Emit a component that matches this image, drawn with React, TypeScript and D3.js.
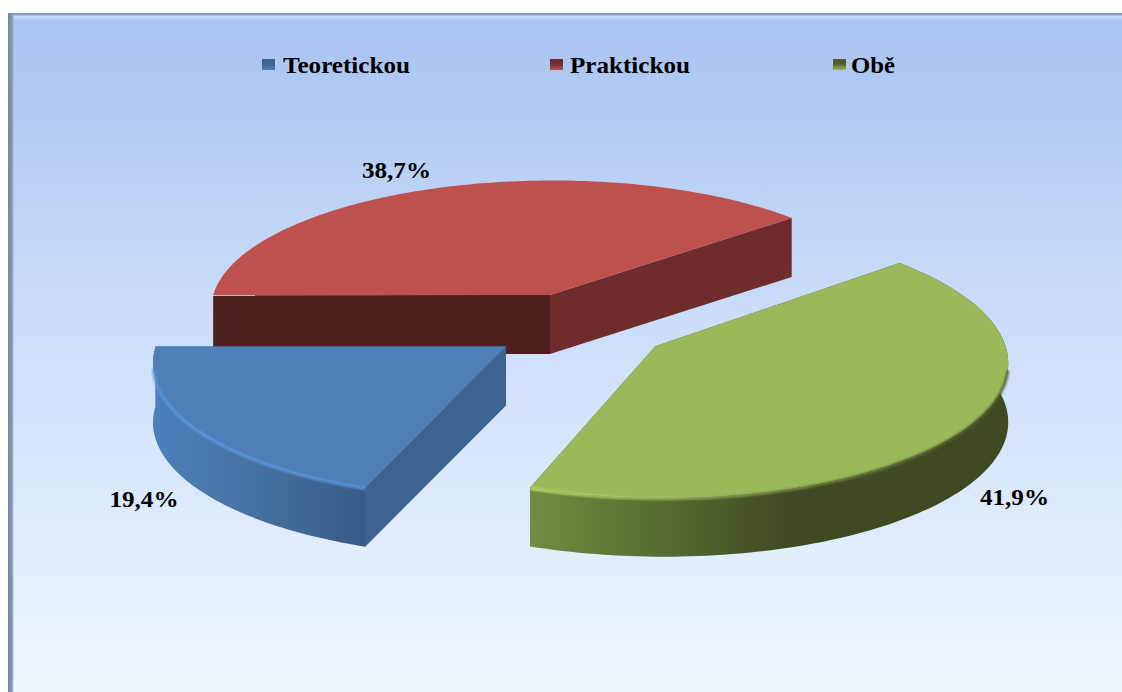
import React from "react";
import * as d3 from "d3";

const categories = ["Teoretickou", "Praktickou", "Obě"];
const shares = [19.4, 38.7, 41.9];
const topColors = ["#4f7fb9", "#be504d", "#9bb95a"];
const markColors = ["#3d6491", "#6e2c2b", "#4f5c2b"];
const startWallColors = ["#3d6491", "#4d1f1e", "#3f4a22"];
const endWallColors = ["#3d6491", "#6e2c2b", "#3f4a22"];
const legendX = [262, 550, 833];
const legendWidths = [127, 120, 44];
const labelAnchors = [[144, 507], [396.5, 178], [1014.5, 505]];

const W = 1122, H = 692;
const Cx = 580.5, Cy = 326.5, Rx = 345, Ry = 132, k = 0.1, explode = 0.26, depth = 59;
const START = (200.1 * Math.PI) / 180;

const fmt = d3.formatLocale({ decimal: ",", thousands: " ", grouping: [3], currency: ["", ""] }).format(".1f");

type P = [number, number];
const project = (X: number, Z: number, drop = 0): P => {
  const w = 1 / (1 - k * Z);
  return [Cx + Rx * X * w, Cy + Ry * Z * w + drop];
};
const line = d3.line<P>();

const arcs = d3.pie<number>().sort(null).startAngle(START).endAngle(START + 2 * Math.PI)(shares);

const slices = arcs.map((a) => {
  const mid = (a.startAngle + a.endAngle) / 2;
  const ax = explode * Math.sin(mid), az = -explode * Math.cos(mid);
  const ts = d3.range(0, 121).map((i) => a.startAngle + ((a.endAngle - a.startAngle) * i) / 120);
  const pt = (t: number, drop = 0) => project(ax + Math.sin(t), az - Math.cos(t), drop);
  const apex = project(ax, az), apexLow = project(ax, az, depth);
  const rim = ts.map((t) => pt(t));
  const rimLow = ts.map((t) => pt(t, depth));
  const s0 = rim[0], s1 = rim[rim.length - 1];
  return {
    top: line([apex, ...rim])! + "Z",
    outer: line([...rim, ...rimLow.slice().reverse()])! + "Z",
    wallStart: line([apex, s0, rimLow[0], apexLow])! + "Z",
    wallEnd: line([apex, s1, rimLow[rimLow.length - 1], apexLow])! + "Z",
    front: ts.filter((t) => -Math.cos(t) + az > 0.3).map((t) => pt(t, 1)),
    x0: d3.min(rim, (p) => p[0])!,
    x1: d3.max(rim, (p) => p[0])!,
  };
});

// painter's order: back slice first
const order = [1, 0, 2];

export default function App() {
  return (
    <svg width={W} height={H} style={{ position: "absolute", left: 0, top: 0, display: "block" }}>
      <defs>
        <linearGradient id="bg" x1="0" y1="0" x2="0" y2="1">
          <stop offset="0" stopColor="#a8c3f0" />
          <stop offset="0.5" stopColor="#cfe0fb" />
          <stop offset="1" stopColor="#eff6ff" />
        </linearGradient>
        <linearGradient id="leftEdge" x1="0" y1="0" x2="1" y2="0">
          <stop offset="0" stopColor="#75859f" />
          <stop offset="0.7" stopColor="#8a9ab6" />
          <stop offset="1" stopColor="#8d9db9" stopOpacity="0" />
        </linearGradient>
        <linearGradient id="topGlow" x1="0" y1="0" x2="0" y2="1">
          <stop offset="0" stopColor="#c8e2fc" />
          <stop offset="1" stopColor="#c8e2fc" stopOpacity="0" />
        </linearGradient>
        <linearGradient id="outer0" gradientUnits="userSpaceOnUse" x1={slices[0].x0} x2={365} y1="0" y2="0">
          <stop offset="0" stopColor="#4d80bd" />
          <stop offset="0.5" stopColor="#44719f" />
          <stop offset="1" stopColor="#385a88" />
        </linearGradient>
        <linearGradient id="outer2" gradientUnits="userSpaceOnUse" x1={slices[2].x0} x2={790} y1="0" y2="0">
          <stop offset="0" stopColor="#738c40" />
          <stop offset="0.45" stopColor="#5a6f33" />
          <stop offset="1" stopColor="#3f4a22" />
        </linearGradient>
        <linearGradient id="rim0" gradientUnits="userSpaceOnUse" x1="150" x2="365" y1="0" y2="0">
          <stop offset="0" stopColor="#5b98e0" />
          <stop offset="1" stopColor="#5b98e0" />
        </linearGradient>
        <linearGradient id="rim2" gradientUnits="userSpaceOnUse" x1={slices[2].x0} x2={1005} y1="0" y2="0">
          <stop offset="0" stopColor="#cbe873" />
          <stop offset="0.2" stopColor="#a9c765" />
          <stop offset="0.55" stopColor="#7c9145" />
          <stop offset="1" stopColor="#4f5c2b" />
        </linearGradient>
        {topColors.map((c, i) => (
          <linearGradient key={i} id={`mark${i}`} x1="0" y1="0" x2="0" y2="1">
            <stop offset="0" stopColor={markColors[i]} />
            <stop offset="0.45" stopColor={markColors[i]} />
            <stop offset="1" stopColor={c} />
          </linearGradient>
        ))}
        <filter id="soft" x="-5%" y="-5%" width="110%" height="110%">
          <feGaussianBlur stdDeviation="1" />
        </filter>
      </defs>

      <rect x={8} y={13} width={W - 8} height={H - 13} fill="url(#bg)" />
      <rect x={8} y={13} width={W - 8} height={2} fill="#8b9ab5" />
      <rect x={14} y={16} width={W - 14} height={5} fill="url(#topGlow)" />
      <rect x={8} y={13} width={6} height={H - 13} fill="url(#leftEdge)" />

      {categories.map((c, i) => (
        <g key={c}>
          <rect x={legendX[i]} y={59} width={13} height={11} fill={`url(#mark${i})`} />
          <text
            x={legendX[i] + (i === 0 ? 21 : i === 1 ? 20 : 18)}
            y={73}
            textLength={legendWidths[i]}
            lengthAdjust="spacingAndGlyphs"
            fontFamily="Liberation Serif"
            fontWeight="bold"
            fontSize={22.5}
            fill="#000"
          >
            {c}
          </text>
        </g>
      ))}

      {order.map((i) => {
        const s = slices[i];
        return (
          <g key={i}>
            <path d={s.wallEnd} fill={endWallColors[i]} />
            <path d={s.wallStart} fill={startWallColors[i]} />
            {i !== 1 && <path d={s.outer} fill={`url(#outer${i})`} />}
            {i === 0 && <path d={s.wallStart} fill={startWallColors[i]} />}
            <path d={s.top} fill={topColors[i]} />
            {i !== 1 && (
              <path d={line(s.front)!} fill="none" stroke={`url(#rim${i})`} strokeWidth={2.5} filter="url(#soft)" />
            )}
          </g>
        );
      })}

      {shares.map((v, i) => (
        <text
          key={i}
          x={labelAnchors[i][0]}
          y={labelAnchors[i][1]}
          textAnchor="middle"
          textLength={69}
          lengthAdjust="spacingAndGlyphs"
          fontFamily="Liberation Serif"
          fontWeight="bold"
          fontSize={22.5}
          fill="#000"
        >
          {fmt(v)}%
        </text>
      ))}
    </svg>
  );
}
